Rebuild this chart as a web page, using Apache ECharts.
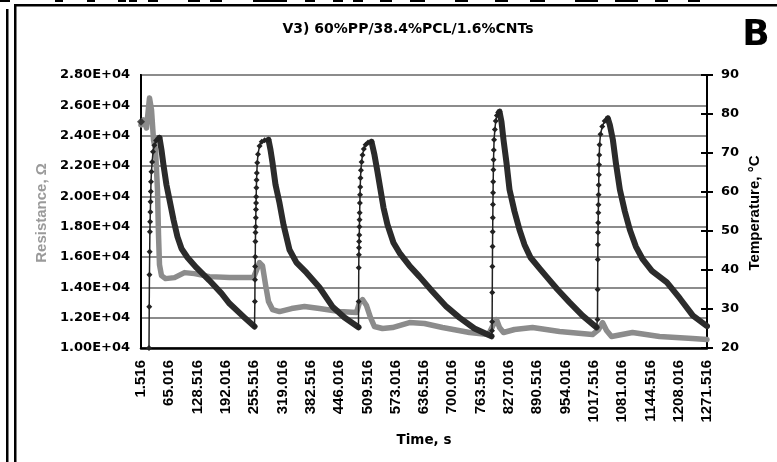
<!DOCTYPE html>
<html>
<head>
<meta charset="utf-8">
<script src="https://cdn.jsdelivr.net/npm/echarts@6/dist/echarts.min.js"></script>
<style>
html,body{margin:0;padding:0;background:#fff;}
#c{width:777px;height:462px;}
</style>
</head>
<body>
<div id="c"></div>
<script>
// ---- data ----
const titleText = 'V3) 60%PP/38.4%PCL/1.6%CNTs';
const timeTickLabels = ['1.516','65.016','128.516','192.016','255.516','319.016','382.516','446.016','509.516','573.016','636.516','700.016','763.516','827.016','890.516','954.016','1017.516','1081.016','1144.516','1208.016','1271.516'];

// resistance, ohm  [time s, R]
const resistance = [
 [1.5,24710],[7.1,25039],[13.9,24512],[18.3,25828],[20.6,26486],[25.1,25697],[29.6,23722],[34.1,23064],
 [38.5,20432],[40.8,17470],[43.0,15496],[47.5,14772],[56.5,14575],[76.7,14641],[99.1,14970],[121.6,14904],
 [155.2,14706],[200.1,14641],[254.0,14641],[256.2,14706],[262.9,15299],[267.4,15628],[274.1,15431],
 [280.9,14180],[287.6,13061],[296.6,12535],[312.3,12403],[339.2,12600],[368.4,12732],[402.1,12600],
 [446.9,12403],[485.0,12337],[491.8,12995],[498.5,13193],[507.5,12798],[516.5,12008],[525.4,11416],
 [543.4,11284],[565.8,11350],[604.0,11679],[637.6,11613],[678.0,11350],[738.6,11021],[781.2,10889],
 [792.4,11547],[799.2,11876],[805.9,11350],[814.9,11021],[839.6,11219],[880.0,11350],[940.6,11087],
 [1014.6,10889],[1028.1,11219],[1037.1,11679],[1046.1,11153],[1057.3,10758],[1104.4,11021],
 [1165.0,10758],[1239.0,10626],[1271.5,10560]
];

// temperature, degC  [time s, T]
const tempStart = [[1.516,78.0]];
const heat1 = [[19.5,20],[20.0,30.6],[20.5,38.8],[21.0,44.7],[21.5,49.8],[22.0,52.4],[22.5,54.9],[23.0,57.5],[23.5,60.1],[24.0,62.6],[25.0,65.2],[26.5,67.7],[28.5,70.3],[31.5,72.0],[35.5,73.2],[40.0,73.8],[43.0,73.9]];
const cool1 = [[43.0,73.9],[47.5,70.8],[52.0,66.9],[58.7,61.8],[65.5,58.0],[74.4,52.9],[83.4,48.5],[92.4,45.5],[105.8,43.2],[126.0,40.6],[155.2,37.3],[182.1,34.0],[200.1,31.4],[233.8,27.8],[256.2,25.5]];
const heat2 = [[256.2,25.5],[257.0,31.9],[257.3,37.5],[257.6,40.9],[257.9,43.4],[258.2,47.3],[258.5,49.6],[258.8,51.1],[259.1,53.4],[259.4,55.5],[259.7,57.2],[260.0,58.8],[260.4,61.1],[260.8,63.1],[261.4,64.9],[262.4,67.5],[264.0,69.7],[267.5,71.8],[272.5,72.9],[279.0,73.3],[287.6,73.4]];
const cool2 = [[287.6,73.4],[292.1,70.8],[296.6,67.5],[303.3,61.9],[312.3,57.2],[321.3,51.6],[334.7,45.2],[350.4,41.9],[372.9,39.3],[402.1,35.5],[431.2,30.6],[458.1,27.8],[489.5,25.3]];
const heat3 = [[489.5,25.3],[489.8,31.9],[490.1,40.6],[490.4,43.9],[490.7,45.7],[491.0,47.3],[491.3,49.0],[491.6,51.1],[491.9,52.9],[492.2,54.7],[492.6,57.2],[493.0,59.3],[493.5,61.3],[494.0,63.6],[495.0,65.6],[496.5,67.7],[498.5,69.5],[501.5,71.0],[505.5,72.1],[511.0,72.7],[518.7,72.9]];
const cool3 = [[518.7,72.9],[525.4,69.5],[532.1,65.2],[538.9,60.6],[545.6,56.0],[554.6,51.6],[568.0,47.0],[581.5,44.4],[603.9,41.1],[626.4,38.3],[655.5,34.5],[686.9,30.6],[716.1,27.8],[749.8,25.0],[788.0,23.0]];
const heat4 = [[788.0,23.0],[789.1,24.4],[789.4,26.7],[789.7,34.2],[790.0,40.9],[790.3,46.0],[790.6,49.8],[790.9,53.4],[791.2,56.8],[791.5,59.8],[791.8,62.6],[792.2,65.7],[792.6,68.3],[793.1,70.8],[793.8,73.4],[795.5,76.0],[797.5,78.2],[800.0,79.6],[803.0,80.4],[805.9,80.6]];
const cool4 = [[805.9,80.6],[810.4,78.0],[814.9,73.4],[821.6,67.5],[828.4,60.6],[839.6,55.0],[850.8,50.3],[862.0,46.5],[875.5,43.2],[895.7,40.4],[911.4,38.3],[936.1,35.0],[963.0,31.7],[992.2,28.3],[1023.6,25.3]];
const heat5 = [[1023.6,25.3],[1025.8,27.3],[1026.1,35.0],[1026.4,42.7],[1026.7,46.5],[1027.0,49.6],[1027.3,52.1],[1027.6,54.7],[1027.9,56.7],[1028.2,59.3],[1028.5,61.8],[1028.9,64.4],[1029.3,67.0],[1029.8,69.5],[1030.5,72.1],[1032.5,74.8],[1036.5,76.8],[1042.0,78.2],[1049.0,78.9]];
const cool5 = [[1049.0,78.9],[1053.5,77.2],[1060.3,73.4],[1067.0,67.5],[1076.0,60.6],[1087.2,55.0],[1098.4,50.3],[1111.9,46.0],[1127.6,42.7],[1147.8,39.8],[1181.5,36.8],[1210.7,32.7],[1239.9,28.3],[1271.5,25.6]];

// ---- build ----
function joinSegments(segs){
  const out = [];
  segs.forEach((s,i)=>{ if(i>0) out.push(null); s.forEach(p=>out.push(p)); });
  return out;
}
const heatingData = joinSegments([heat1,heat2,heat3,heat4,heat5]);
const coolingData = joinSegments([cool1,cool2,cool3,cool4,cool5]);
const tickValues = timeTickLabels.map(parseFloat);

const chart = echarts.init(document.getElementById('c'), null, {renderer:'canvas'});

const topFragments = [[0,10],[55,63],[87,95],[118,126],[129,137],[148,158],[188,200],[210,222],[253,287],[305,315],[333,343],[353,363],[380,392],[410,425],[455,468],[495,508],[530,545],[575,598],[615,638],[655,668],[688,700]];
const graphics = [
  {type:'rect', shape:{x:6,y:9,width:2.5,height:453}, style:{fill:'#000'}},
  {type:'rect', shape:{x:14,y:4,width:2.5,height:458}, style:{fill:'#000'}},
  {type:'rect', shape:{x:14,y:4,width:763,height:2.6}, style:{fill:'#000'}},
  {type:'text', x:408, y:29, style:{text:titleText, fontFamily:'DejaVu Sans', fontWeight:'bold', fontSize:14, fill:'#000', align:'center', verticalAlign:'middle'}},
  {type:'text', x:756, y:36, style:{text:'B', fontFamily:'DejaVu Sans', fontWeight:'bold', fontSize:36, fill:'#000', align:'center', verticalAlign:'middle'}},
  {type:'text', x:42, y:213, rotation:Math.PI/2, style:{text:'Resistance, Ω', fontFamily:'Liberation Sans', fontWeight:'bold', fontSize:15, fill:'#9a9a9a', align:'center', verticalAlign:'middle'}},
  {type:'text', x:755, y:213, rotation:Math.PI/2, style:{text:'Temperature, °C', fontFamily:'Liberation Sans', fontWeight:'bold', fontSize:15, fill:'#000', align:'center', verticalAlign:'middle'}},
  {type:'text', x:424, y:440, style:{text:'Time, s', fontFamily:'DejaVu Sans', fontWeight:'bold', fontSize:13.5, fill:'#000', align:'center', verticalAlign:'middle'}}
];
topFragments.forEach(f=>graphics.push({type:'rect', shape:{x:f[0],y:0,width:f[1]-f[0],height:2}, style:{fill:'#000'}}));

const option = {
  animation:false,
  backgroundColor:'#fff',
  grid:{left:141, right:70, top:75, bottom:114, show:true, borderColor:'#000', borderWidth:2, backgroundColor:'transparent'},
  xAxis:{
    type:'value', min:1.516, max:1271.516,
    axisLine:{show:true, lineStyle:{color:'#000', width:2.5}},
    axisTick:{show:false},
    splitLine:{show:false},
    axisLabel:{customValues:tickValues, rotate:90, margin:12, showMinLabel:true, showMaxLabel:true,
      formatter:(v)=>Number(v).toFixed(3),
      fontFamily:'Liberation Sans', fontWeight:'bold', fontSize:15, color:'#000'}
  },
  yAxis:[
    {type:'value', position:'left', min:10000, max:28000, interval:2000,
     axisLine:{show:true, lineStyle:{color:'#000', width:2}},
     axisTick:{show:false},
     splitLine:{show:true, lineStyle:{color:'#8c8c8c', width:2}},
     axisLabel:{margin:11, formatter:(v)=>(v/10000).toFixed(2)+'E+04', fontFamily:'DejaVu Sans', fontWeight:'bold', fontSize:13, color:'#000'}},
    {type:'value', position:'right', min:20, max:90, interval:10,
     axisLine:{show:true, lineStyle:{color:'#000', width:2}},
     axisTick:{show:true, length:6, lineStyle:{color:'#000', width:2}},
     splitLine:{show:false},
     axisLabel:{margin:14, fontFamily:'DejaVu Sans', fontWeight:'bold', fontSize:13, color:'#000'}},
    {type:'value', position:'right', min:20, max:90, interval:10,
     axisLine:{show:false},
     axisTick:{show:true, inside:true, length:6, lineStyle:{color:'#000', width:2}},
     splitLine:{show:false},
     axisLabel:{show:false}}
  ],
  series:[
    {name:'Resistance', type:'line', yAxisIndex:0, data:resistance, showSymbol:false, clip:false, z:2,
     lineStyle:{color:'#8c8c8c', width:5.5, join:'round', cap:'round'}},
    {name:'Temperature', type:'line', yAxisIndex:1, data:coolingData, showSymbol:false, connectNulls:false, z:3,
     lineStyle:{color:'#2b2b2b', width:6, join:'round', cap:'round'}},
    {name:'Temperature heating', type:'line', yAxisIndex:1, data:heatingData, connectNulls:false, z:4,
     symbol:'diamond', symbolSize:6, showAllSymbol:true,
     itemStyle:{color:'#222'}, lineStyle:{color:'#222', width:1.5}},
    {name:'Temperature start', type:'scatter', yAxisIndex:1, data:tempStart, symbol:'diamond', symbolSize:8, clip:false, z:5,
     itemStyle:{color:'#222'}}
  ],
  graphic:graphics
};
chart.setOption(option);
</script>
</body>
</html>
